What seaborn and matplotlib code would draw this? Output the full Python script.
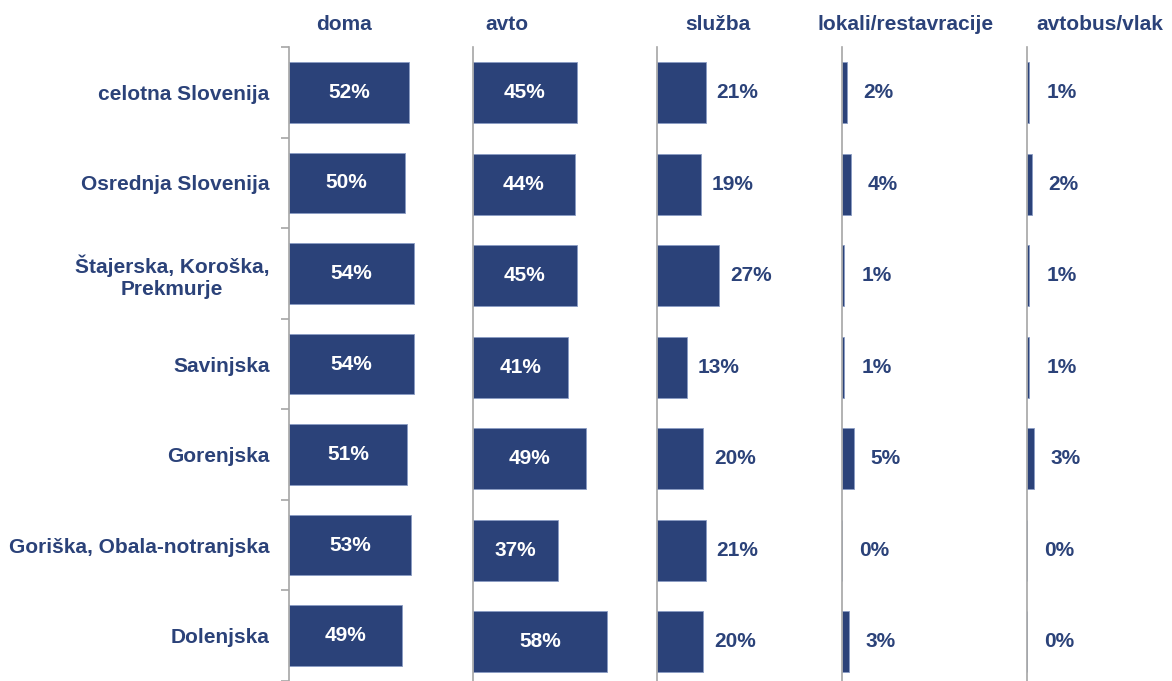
import numpy as np
import pandas as pd
import matplotlib
matplotlib.use("Agg")
import matplotlib.pyplot as plt
import seaborn as sns

# data (percent)
regions = ["celotna Slovenija", "Osrednja Slovenija", "Štajerska, Koroška,\nPrekmurje",
           "Savinjska", "Gorenjska", "Goriška, Obala-notranjska", "Dolenjska"]
places = ["doma", "avto", "služba", "lokali/restavracije", "avtobus/vlak"]
doma = [52, 50, 54, 54, 51, 53, 49]
avto = [45, 44, 45, 41, 49, 37, 58]
sluzba = [21, 19, 27, 13, 20, 21, 20]
lokali = [2, 4, 1, 1, 5, 0, 3]
avtobus = [1, 2, 1, 1, 3, 0, 0]

series = [doma, avto, sluzba, lokali, avtobus]

sns.set_theme(style="white")
plt.rcParams["font.family"] = ["Liberation Sans", "DejaVu Sans"]

navy = "#2B4279"
grey = "#a6a6a6"

W, H = 1172, 681
fig = plt.figure(figsize=(W / 100, H / 100), dpi=100)

# panel positions in pixels (left edge of each axis line)
lefts = [289, 473, 657, 842, 1027]
title_x = [344, 507, 718, 906, 1100]
panel_w = 150
px_per_pct = 2.31
top_px = 47
slot = 91.5
n = len(regions)
ax_h = H - top_px
ylim_bottom = -0.5 + ax_h / slot

for i, (name, vals) in enumerate(zip(places, series)):
    ax = fig.add_axes([lefts[i] / W, 0, panel_w / W, ax_h / H])
    df = pd.DataFrame({"region": regions, "value": vals})
    sns.barplot(data=df, x="value", y="region", ax=ax, color=navy, saturation=1,
                width=0.67, edgecolor="#8a9cc4", linewidth=0.6, orient="h")
    ax.set_xlim(0, panel_w / px_per_pct)
    ax.set_ylim(ylim_bottom, -0.5)
    for s in ["top", "right", "bottom"]:
        ax.spines[s].set_visible(False)
    ax.spines["left"].set_color(grey)
    ax.spines["left"].set_linewidth(1.2)
    ax.set_xticks([])
    ax.set_xlabel("")
    ax.set_ylabel("")
    ax.set_facecolor("none")

    if i == 0:
        ax.set_yticks(range(n))
        ax.set_yticklabels(regions, fontsize=15, fontweight="bold", color=navy,
                           multialignment="center")
        ax.tick_params(axis="y", which="major", length=0, pad=14)
        ax.set_yticks(np.arange(-0.5, n, 1.0), minor=True)
        ax.tick_params(axis="y", which="minor", length=6, width=1.2, color=grey, left=True)
    else:
        ax.set_yticks([])

    # value labels
    for j, v in enumerate(vals):
        if i < 2:
            ax.text(v / 2, j, f"{v}%", ha="center", va="center", color="white",
                    fontsize=15, fontweight="bold")
        else:
            ax.annotate(f"{v}%", xy=(v, j), xytext=(23, 0), textcoords="offset points",
                        ha="center", va="center", color=navy, fontsize=15, fontweight="bold")

    fig.text(title_x[i] / W, 1 - 25 / H, name, ha="center", va="center",
             color=navy, fontsize=15, fontweight="bold")

fig.savefig("out.png", dpi=100)
